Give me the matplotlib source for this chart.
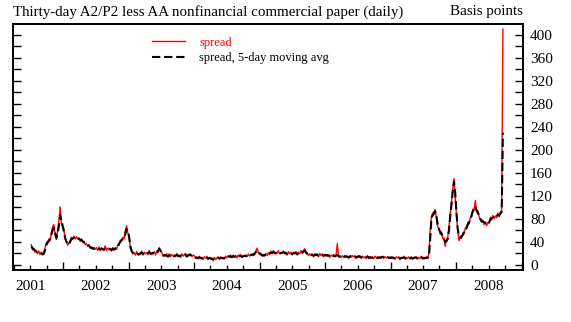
import pandas as pd
import matplotlib
matplotlib.use("Agg")
import matplotlib.pyplot as plt
import matplotlib.dates as mdates
from matplotlib.ticker import FuncFormatter

plt.rcParams['font.family'] = ['Liberation Serif', 'DejaVu Serif']

# weekly readings (basis points), one list per year
avg_2001 = [32, 29, 27, 25, 23, 22, 21, 20, 20, 19, 19, 26, 35, 40, 41, 45, 52, 60, 64, 56, 47, 55, 68, 86, 78, 68]
spread_2001 = [35, 26, 29, 22, 25, 19, 24, 18, 22, 17, 21, 30, 38, 36, 45, 42, 57, 66, 70, 52, 44, 60, 75, 101, 72, 66]

avg_2002 = [58, 47, 40, 37, 35, 40, 45, 46, 47, 47, 46, 47, 45, 44, 43, 41, 39, 37, 35, 34, 33, 31, 29, 29, 28, 29,
            28, 27, 28, 27, 28, 27, 26, 28, 27, 27, 28, 27, 26, 28, 27, 28, 28, 32, 37, 40, 43, 45, 47, 54, 62, 58]
spread_2002 = [62, 44, 42, 34, 38, 43, 48, 44, 50, 45, 49, 45, 47, 41, 45, 39, 41, 35, 37, 32, 35, 29, 31, 27, 30, 27,
               30, 25, 31, 25, 30, 26, 28, 33, 25, 29, 26, 29, 24, 30, 25, 30, 27, 35, 34, 43, 41, 48, 45, 60, 68, 55]

avg_2003 = [48, 32, 24, 21, 19, 19, 20, 19, 18, 20, 21, 19, 20, 21, 19, 20, 22, 20, 19, 21, 20, 19, 21, 24, 28, 25,
            20, 17, 16, 17, 16, 15, 17, 16, 16, 17, 15, 16, 17, 16, 15, 16, 17, 16, 16, 17, 15, 16, 18, 17, 16, 15]
spread_2003 = [52, 28, 26, 19, 21, 17, 23, 17, 20, 18, 24, 17, 22, 19, 21, 18, 25, 18, 21, 19, 23, 17, 24, 22, 30, 23,
               22, 15, 18, 15, 19, 13, 19, 14, 18, 15, 17, 14, 20, 14, 17, 13, 19, 15, 18, 20, 13, 18, 16, 19, 14, 17]

avg_2004 = [14, 13, 12, 12, 13, 12, 11, 12, 12, 13, 12, 11, 12, 11, 10, 10, 11, 10, 11, 12, 11, 12, 12, 11, 12, 13, 12,
            14, 15, 14, 14, 15, 14, 15, 14, 15, 16, 15, 14, 15, 16, 15, 16, 17, 16, 17, 18, 17, 19, 22, 25, 24, 20]
spread_2004 = [16, 11, 14, 10, 15, 11, 13, 9, 14, 12, 15, 9, 13, 10, 12, 7, 13, 9, 12, 14, 10, 14, 11, 13, 10, 15, 12,
               16, 13, 17, 12, 17, 13, 16, 12, 17, 14, 18, 13, 16, 15, 17, 14, 19, 15, 18, 16, 20, 18, 24, 29, 22, 18]

avg_2005 = [18, 17, 16, 17, 18, 17, 19, 20, 21, 21, 22, 21, 20, 21, 22, 21, 20, 21, 22, 21, 20, 19, 20, 21, 20, 19,
            20, 21, 20, 19, 20, 21, 22, 21, 23, 25, 22, 19, 18, 17, 18, 17, 16, 17, 18, 17, 16, 17, 18, 17, 16, 17]
spread_2005 = [20, 15, 18, 15, 20, 16, 21, 18, 24, 19, 25, 19, 22, 20, 25, 19, 22, 20, 24, 19, 22, 17, 23, 19, 22, 17,
               22, 19, 23, 17, 22, 19, 25, 20, 25, 28, 20, 21, 16, 19, 16, 19, 14, 19, 16, 19, 14, 20, 16, 19, 14, 18]

avg_2006 = [16, 17, 16, 15, 16, 17, 16, 15, 16, 17, 15, 14, 15, 14, 15, 14, 15, 14, 13, 14, 15, 14, 15, 14, 13, 14,
            15, 14, 13, 14, 13, 12, 13, 14, 13, 12, 13, 12, 13, 14, 13, 12, 13, 12, 13, 14, 13, 12, 13, 12, 13, 12]
spread_2006 = [18, 15, 18, 13, 17, 15, 18, 14, 18, 37, 14, 16, 13, 16, 13, 16, 13, 15, 11, 16, 13, 16, 14, 16, 11, 15,
               13, 16, 11, 15, 12, 14, 11, 16, 11, 14, 12, 14, 11, 15, 12, 14, 11, 14, 12, 15, 11, 14, 12, 14, 11, 13]

avg_2007 = [12, 13, 12, 11, 12, 13, 12, 11, 12, 12, 13, 12, 11, 12, 13, 12, 12, 11, 12, 13, 12, 11, 12, 12, 13, 12,
            11, 12, 12, 12, 14, 45, 81, 86, 89, 93, 85, 70, 62, 57, 54, 50, 45, 40, 41, 45, 60, 85, 105, 128, 145, 125]
spread_2007 = [14, 11, 13, 10, 14, 12, 14, 9, 13, 11, 15, 10, 13, 11, 14, 10, 14, 10, 13, 12, 14, 10, 13, 11, 15, 10,
               13, 11, 14, 12, 20, 60, 84, 90, 92, 96, 80, 66, 64, 53, 57, 46, 47, 32, 44, 48, 66, 90, 110, 132, 150, 115]

avg_2008 = [90, 62, 50, 47, 49, 52, 57, 61, 65, 70, 74, 78, 86, 93, 98, 101, 95, 90, 87, 80, 76, 75, 74, 72, 71, 71,
            74, 79, 81, 82, 84, 82, 85, 87, 86, 89, 92, 230]
spread_2008 = [85, 58, 42, 50, 46, 55, 54, 64, 62, 74, 71, 82, 84, 97, 95, 112, 92, 94, 84, 78, 74, 78, 70, 75, 68, 74,
               72, 83, 78, 86, 81, 85, 82, 90, 84, 92, 95, 410]

year_start = ['2001-07-01', '2002-01-01', '2003-01-01', '2004-01-01', '2005-01-01', '2006-01-01', '2007-01-01', '2008-01-01']
avg_years = [avg_2001, avg_2002, avg_2003, avg_2004, avg_2005, avg_2006, avg_2007, avg_2008]
spread_years = [spread_2001, spread_2002, spread_2003, spread_2004, spread_2005, spread_2006, spread_2007, spread_2008]

parts = []
for start, a, s in zip(year_start, avg_years, spread_years):
    n = min(len(a), len(s))
    idx = pd.date_range(start, periods=n, freq='W-FRI')
    parts.append(pd.DataFrame({'spread': s[:n], 'avg': a[:n]}, index=idx))
df = pd.concat(parts)

fig = plt.figure(figsize=(5.71, 3.22), dpi=100)
ax = fig.add_axes([13 / 571, 52 / 322, 510 / 571, 246 / 322])

l1, = ax.plot(df.index, df['spread'], color='red', lw=1.0)
l2, = ax.plot(df.index, df['avg'], color='black', lw=1.5, dashes=(4, 1.8))

ax.set_xlim(pd.Timestamp('2001-03-26'), pd.Timestamp('2009-01-09'))
ax.set_ylim(-9, 419)

# x axis: tall ticks at year starts, short at quarters, labels at mid-year
ax.xaxis.set_major_locator(mdates.YearLocator())
ax.xaxis.set_major_formatter(FuncFormatter(lambda x, pos: ''))
ax.xaxis.set_minor_locator(mdates.MonthLocator(bymonth=[4, 7, 10]))
ax.xaxis.set_minor_formatter(FuncFormatter(
    lambda x, pos: str(mdates.num2date(x).year) if mdates.num2date(x).month == 7 else ''))
ax.tick_params(axis='x', which='major', direction='in', length=6, width=1.0)
ax.tick_params(axis='x', which='minor', direction='in', length=3.6, width=1.0, labelsize=11, pad=7)

yt = list(range(0, 420, 20))
ax.set_yticks(yt)
ax.set_yticklabels([str(v) if v % 40 == 0 else '' for v in yt])
ax.tick_params(axis='y', direction='in', length=5.8, width=1.0, left=True, right=True,
               labelleft=False, labelright=True, labelsize=11, pad=5)

for sp in ax.spines.values():
    sp.set_linewidth(1.4)

leg = ax.legend([l1, l2], ['spread', 'spread, 5-day moving avg'], loc='upper left',
                bbox_to_anchor=(0.262, 0.968), frameon=False, fontsize=9,
                handlelength=2.7, handletextpad=1.1, labelspacing=0.25, borderaxespad=0)
leg.get_texts()[0].set_color('red')

fig.text(13 / 571, 1 - 12 / 322, 'Thirty-day A2/P2 less AA nonfinancial commercial paper (daily)',
         ha='left', va='center', fontsize=10.8)
fig.text(523 / 571, 1 - 12 / 322, 'Basis points', ha='right', va='center', fontsize=10.8)

fig.savefig('out.png', dpi=100)
